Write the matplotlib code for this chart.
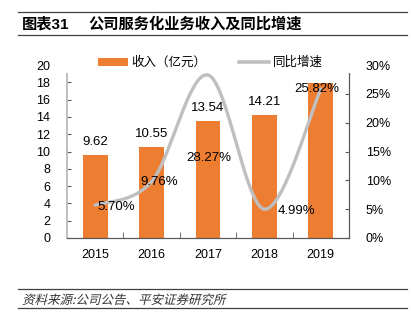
import matplotlib
matplotlib.use("Agg")
import matplotlib.pyplot as plt
import numpy as np
from matplotlib.patches import Rectangle, PathPatch, Patch
from matplotlib.lines import Line2D
from matplotlib.textpath import TextPath
from matplotlib.font_manager import FontProperties
from matplotlib.transforms import Affine2D, IdentityTransform
from matplotlib.ticker import FuncFormatter

plt.rcParams['font.family'] = ['Liberation Sans', 'Noto Sans CJK SC']
plt.rcParams['font.size'] = 9

# --- data ---
years = ['2015', '2016', '2017', '2018', '2019']
revenue = [9.62, 10.55, 13.54, 14.21, 17.88]       # 亿元
growth = [5.70, 9.76, 28.27, 4.99, 25.82]          # %
# the 2019 revenue label sits behind the legend in the reference
show_revenue_label = [True, True, True, True, False]
# label offsets (pixels) for the growth labels
growth_label_dx = [2, 8, 1, 13, -4]
growth_label_dy = [-2, 0, -83, -2, 0]
growth_label_ha = ['left', 'center', 'center', 'left', 'center']

BAR_COLOR = '#ED7D31'
LINE_COLOR = '#BFBFBF'
W, H = 411, 322


def smooth_curve(xs, ys, n=40):
    """Excel-like smoothed line: Catmull-Rom cubic Bezier segments."""
    pts = np.column_stack([xs, ys]).astype(float)
    out = []
    for i in range(len(pts) - 1):
        p0 = pts[i - 1] if i > 0 else pts[i]
        p1, p2 = pts[i], pts[i + 1]
        p3 = pts[i + 2] if i + 2 < len(pts) else pts[i + 1]
        c1 = p1 + (p2 - p0) / 6
        c2 = p2 - (p3 - p1) / 6
        t = np.linspace(0, 1, n)[:, None]
        seg = ((1 - t) ** 3) * p1 + 3 * ((1 - t) ** 2) * t * c1 + 3 * (1 - t) * t ** 2 * c2 + t ** 3 * p2
        out.append(seg if i == 0 else seg[1:])
    out = np.vstack(out)
    return out[:, 0], out[:, 1]


fig = plt.figure(figsize=(W / 100, H / 100), dpi=100)
ax = fig.add_axes([67 / W, 1 - 238 / H, (349 - 67) / W, (238 - 65) / H])
ax2 = ax.twinx()

x = np.arange(len(years))
ax.bar(x, revenue, width=0.44, color=BAR_COLOR, zorder=2)
ax.set_xlim(-0.5, len(years) - 0.5)
ax.set_ylim(0, 20)
ax.set_yticks(np.arange(0, 21, 2))
ax.set_xticks(x)
ax.set_xticklabels(years)
ax.set_xticks(np.arange(0.5, len(years) - 1, 1), minor=True)
ax.tick_params(axis='x', which='major', length=0, pad=8)
ax.tick_params(axis='x', which='minor', direction='in', length=4, color='#595959')
ax.tick_params(axis='y', direction='in', length=3, pad=12, color='#595959')

for xi, v, show in zip(x, revenue, show_revenue_label):
    if show:
        ax.annotate(f'{v:.2f}', (xi, v), xytext=(0, 13), textcoords='offset pixels',
                    ha='center', va='center', fontsize=9.5)

# growth line on secondary axis
sx, sy = smooth_curve(x, growth)
ax2.plot(sx, sy, color=LINE_COLOR, lw=2.4, solid_capstyle='round', zorder=3)
ax2.set_ylim(0, 30)
ax2.set_yticks(np.arange(0, 31, 5))
ax2.yaxis.set_major_formatter(FuncFormatter(lambda v, p: f'{v:.0f}%'))
ax2.tick_params(axis='y', direction='in', length=3, pad=12, color='#595959')
for xi, g, dx, dy, ha in zip(x, growth, growth_label_dx, growth_label_dy, growth_label_ha):
    ax2.annotate(f'{g:.2f}%', (xi, g), xytext=(dx, dy), textcoords='offset pixels',
                 ha=ha, va='center', fontsize=9.5, zorder=5)

for a in (ax, ax2):
    a.spines['top'].set_visible(False)
    a.spines['left'].set_color('#BFBFBF')
    a.spines['left'].set_linewidth(1.4)
    a.spines['right'].set_color('#595959')
    a.spines['bottom'].set_color('#595959')
    a.spines['right'].set_linewidth(0.8)
    a.spines['bottom'].set_linewidth(0.8)

# white band behind the legend (hides top of plot like the reference)
fig.add_artist(Rectangle((62 / W, 1 - 73 / H), (356 - 62) / W, 19 / H,
                         transform=fig.transFigure, facecolor='white',
                         edgecolor='none', zorder=5))

handles = [Patch(facecolor=BAR_COLOR, edgecolor='none'),
           Line2D([], [], color=LINE_COLOR, lw=2.6)]
leg = fig.legend(handles, ['收入（亿元）', '同比增速'], loc='center',
                 bbox_to_anchor=(210 / W, 1 - 63 / H), ncol=2, frameon=False,
                 handlelength=2.4, handleheight=0.6, handletextpad=0.3,
                 columnspacing=2.6, fontsize=9)
leg.set_zorder(6)

# --- header / footer ---
for yy in (12, 35, 289, 308):
    fig.add_artist(Line2D([18 / W, 407 / W], [1 - yy / H] * 2, color='#404040',
                          lw=0.9, transform=fig.transFigure))
fig.text(22 / W, 1 - 24.5 / H, '图表31', fontsize=11, fontweight='bold', va='center')
fig.text(88 / W, 1 - 24.5 / H, '公司服务化业务收入及同比增速', fontsize=11,
         fontweight='bold', va='center')

# italic source line (CJK font has no italic -> skew the glyph outlines)
src = TextPath((0, 0), '资料来源:公司公告、平安证券研究所', size=12.5,
               prop=FontProperties(family='Noto Sans CJK SC'))
tr = Affine2D().skew_deg(14, 0).translate(22, H - 304)
fig.add_artist(PathPatch(tr.transform_path(src), transform=IdentityTransform(),
                         facecolor='#333333', edgecolor='none'))

fig.savefig('out.png', dpi=100)
